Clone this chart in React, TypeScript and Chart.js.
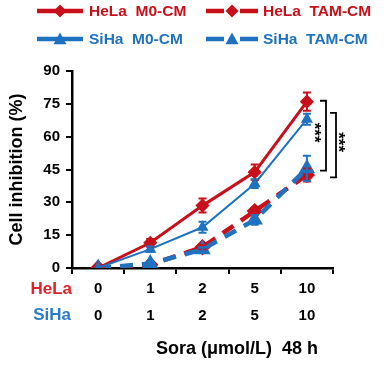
import React, { useEffect, useRef } from "react";
import { Chart, registerables } from "chart.js";

Chart.register(...registerables);

const categories = ["0", "1", "2", "5", "10"];
const helaDoses = ["0", "1", "2", "5", "10"];
const sihaDoses = ["0", "1", "2", "5", "10"];

const helaM0 = [0, 11.5, 28.5, 43.8, 76];
const helaM0Err = [0.5, 1.8, 3.2, 3.5, 4.2];
const sihaM0 = [0, 8.6, 18.6, 38.5, 68];
const sihaM0Err = [0.5, 1.2, 2.5, 2, 2.5];
const helaTAM = [0, 1.5, 9.5, 26, 42.5];
const helaTAMErr = [0.3, 0.5, 1, 1.5, 3];
const sihaTAM = [0, 2, 8.5, 22, 45.5];
const sihaTAMErr = [0.3, 0.6, 1, 2.2, 5.8];

const yTicks = [0, 15, 30, 45, 60, 75, 90];

const bracketTop = [76.4, 70.9];
const bracketBottom = [44.5, 41.4];
const bracketLabels = ["***", "***"];

const RED = "#C8101A";
const RED_TEXT = "#E0202A";
const BLUE = "#1E72C0";
const BLUE_TEXT = "#2A7CCA";
const FONT = "'Liberation Sans', Arial, sans-serif";

const legendItems = [
  { label: "HeLa  M0-CM", color: RED, dashed: false, marker: "diamond" },
  { label: "HeLa  TAM-CM", color: RED, dashed: true, marker: "diamond" },
  { label: "SiHa  M0-CM", color: BLUE, dashed: false, marker: "triangle" },
  { label: "SiHa  TAM-CM", color: BLUE, dashed: true, marker: "triangle" },
];

function drawMarker(ctx: CanvasRenderingContext2D, kind: string, x: number, y: number, r: number, color: string) {
  ctx.save();
  ctx.fillStyle = color;
  ctx.beginPath();
  if (kind === "diamond") {
    ctx.moveTo(x, y - r);
    ctx.lineTo(x + r, y);
    ctx.lineTo(x, y + r);
    ctx.lineTo(x - r, y);
  } else {
    ctx.moveTo(x, y - r);
    ctx.lineTo(x + r, y + r * 0.8);
    ctx.lineTo(x - r, y + r * 0.8);
  }
  ctx.closePath();
  ctx.fill();
  ctx.restore();
}

const errorBarPlugin = {
  id: "errorBars",
  afterDatasetsDraw(chart: any) {
    const ctx = chart.ctx;
    const yScale = chart.scales.y;
    chart.data.datasets.forEach((ds: any, i: number) => {
      const meta = chart.getDatasetMeta(i);
      const errs: number[] = ds.errors || [];
      ctx.save();
      ctx.strokeStyle = ds.borderColor;
      ctx.lineWidth = 2;
      meta.data.forEach((pt: any, j: number) => {
        const v = ds.data[j];
        const e = errs[j] || 0;
        if (e <= 0.5) return;
        const yt = yScale.getPixelForValue(v + e);
        const yb = yScale.getPixelForValue(v - e);
        ctx.beginPath();
        ctx.moveTo(pt.x, yt);
        ctx.lineTo(pt.x, yb);
        ctx.moveTo(pt.x - 4, yt);
        ctx.lineTo(pt.x + 4, yt);
        ctx.moveTo(pt.x - 4, yb);
        ctx.lineTo(pt.x + 4, yb);
        ctx.stroke();
      });
      ctx.restore();
    });
  },
};

const decorPlugin = {
  id: "decor",
  afterDraw(chart: any) {
    const ctx = chart.ctx;
    const area = chart.chartArea;
    const yScale = chart.scales.y;
    const xScale = chart.scales.x;
    ctx.save();

    // legend
    const rows = [11, 39];
    const cols = [
      { x0: 37, x1: 83, tx: 89 },
      { x0: 206, x1: 258, tx: 263 },
    ];
    legendItems.forEach((it, k) => {
      const r = k < 2 ? 0 : 1;
      const c = k % 2;
      const y = rows[r];
      const col = cols[c];
      const mx = (col.x0 + col.x1) / 2;
      ctx.strokeStyle = it.color;
      ctx.lineWidth = 4.5;
      ctx.beginPath();
      if (it.dashed) {
        ctx.moveTo(col.x0, y);
        ctx.lineTo(mx - 8, y);
        ctx.moveTo(mx + 8, y);
        ctx.lineTo(col.x1, y);
      } else {
        ctx.moveTo(col.x0, y);
        ctx.lineTo(col.x1, y);
      }
      ctx.stroke();
      drawMarker(ctx, it.marker, mx, y, 6.5, it.color);
      ctx.fillStyle = it.color;
      ctx.font = `bold 15.5px ${FONT}`;
      ctx.textAlign = "left";
      ctx.textBaseline = "middle";
      ctx.fillText(it.label, col.tx, y + 1);
    });

    // row labels for x axis
    ctx.font = `bold 17px ${FONT}`;
    ctx.textAlign = "right";
    ctx.textBaseline = "middle";
    ctx.fillStyle = RED_TEXT;
    ctx.fillText("HeLa", area.left, 289);
    ctx.fillStyle = BLUE_TEXT;
    ctx.fillText("SiHa", area.left - 1, 315);

    // x axis title
    ctx.fillStyle = "#000";
    ctx.font = `bold 18px ${FONT}`;
    ctx.textAlign = "right";
    ctx.fillText("Sora (\u03bcmol/L)  48 h", xScale.right - 15, 349);

    // significance brackets
    const bx = [area.right - 7, area.right + 3];
    const tx = [area.right - 14, area.right + 10];
    ctx.strokeStyle = "#000";
    ctx.lineWidth = 1.8;
    bracketTop.forEach((t, k) => {
      const yt = yScale.getPixelForValue(t);
      const yb = yScale.getPixelForValue(bracketBottom[k]);
      const x = bx[k];
      ctx.beginPath();
      ctx.moveTo(x - 6, yt);
      ctx.lineTo(x, yt);
      ctx.lineTo(x, yb);
      ctx.lineTo(x - 6, yb);
      ctx.stroke();
      ctx.save();
      ctx.translate(tx[k], (yt + yb) / 2 - 3);
      ctx.rotate(Math.PI / 2);
      ctx.font = `bold 17px ${FONT}`;
      ctx.textAlign = "center";
      ctx.textBaseline = "alphabetic";
      ctx.fillStyle = "#000";
      ctx.fillText(bracketLabels[k], 0, 10);
      ctx.restore();
    });
    ctx.restore();
  },
};

export default function App() {
  const ref = useRef<HTMLCanvasElement>(null);
  useEffect(() => {
    if (!ref.current) return;
    const chart = new Chart(ref.current, {
      type: "line",
      data: {
        labels: categories.map((c, i) => [helaDoses[i], sihaDoses[i]]),
        datasets: [
          {
            label: "HeLa M0-CM",
            data: helaM0,
            errors: helaM0Err,
            borderColor: RED,
            backgroundColor: RED,
            borderWidth: 3,
            pointStyle: "rectRot",
            pointRadius: 5,
            order: 2,
          } as any,
          {
            label: "SiHa M0-CM",
            data: sihaM0,
            errors: sihaM0Err,
            borderColor: BLUE,
            backgroundColor: BLUE,
            borderWidth: 2,
            pointStyle: "triangle",
            pointRadius: 5,
            order: 1,
          } as any,
          {
            label: "HeLa TAM-CM",
            data: helaTAM,
            errors: helaTAMErr,
            borderColor: RED,
            backgroundColor: RED,
            borderWidth: 4.5,
            borderDash: [13, 9],
            pointStyle: "rectRot",
            pointRadius: 5,
            order: 4,
          } as any,
          {
            label: "SiHa TAM-CM",
            data: sihaTAM,
            errors: sihaTAMErr,
            borderColor: BLUE,
            backgroundColor: BLUE,
            borderWidth: 4.5,
            borderDash: [13, 9],
            pointStyle: "triangle",
            pointRadius: 5,
            order: 3,
          } as any,
        ],
      },
      options: {
        animation: false,
        responsive: true,
        maintainAspectRatio: false,
        layout: { padding: { top: 71, right: 54, left: 0, bottom: 0 } },
        plugins: { legend: { display: false }, tooltip: { enabled: false } },
        scales: {
          x: {
            type: "category",
            offset: true,
            grid: {
              offset: true,
              drawOnChartArea: false,
              drawTicks: true,
              tickLength: 6,
              color: "#000",
              lineWidth: 2,
            },
            border: { color: "#000", width: 2.5 },
            ticks: {
              color: "#000",
              font: { family: FONT, size: 15, weight: "bold", lineHeight: 1.75 },
              padding: 2,
              maxRotation: 0,
              autoSkip: false,
            },
            afterFit: (s: any) => {
              s.height = 105;
            },
          },
          y: {
            min: 0,
            max: 90,
            afterBuildTicks: (s: any) => {
              s.ticks = yTicks.map((v) => ({ value: v }));
            },
            grid: {
              drawOnChartArea: false,
              drawTicks: true,
              tickLength: 6,
              color: "#000",
              lineWidth: 2,
            },
            border: { color: "#000", width: 2.5 },
            ticks: {
              color: "#000",
              font: { family: FONT, size: 15, weight: "bold" },
              padding: 6,
            },
            title: {
              display: true,
              text: "Cell inhibition (%)",
              color: "#000",
              font: { family: FONT, size: 18, weight: "bold" },
              padding: { top: 6, bottom: 0 },
            },
            afterFit: (s: any) => {
              s.width = 72;
            },
          },
        },
      } as any,
      plugins: [errorBarPlugin, decorPlugin],
    });
    return () => chart.destroy();
  }, []);
  return (
    <div style={{ position: "fixed", left: 0, top: 0, width: 387, height: 373, background: "#fff" }}>
      <canvas ref={ref} />
    </div>
  );
}
